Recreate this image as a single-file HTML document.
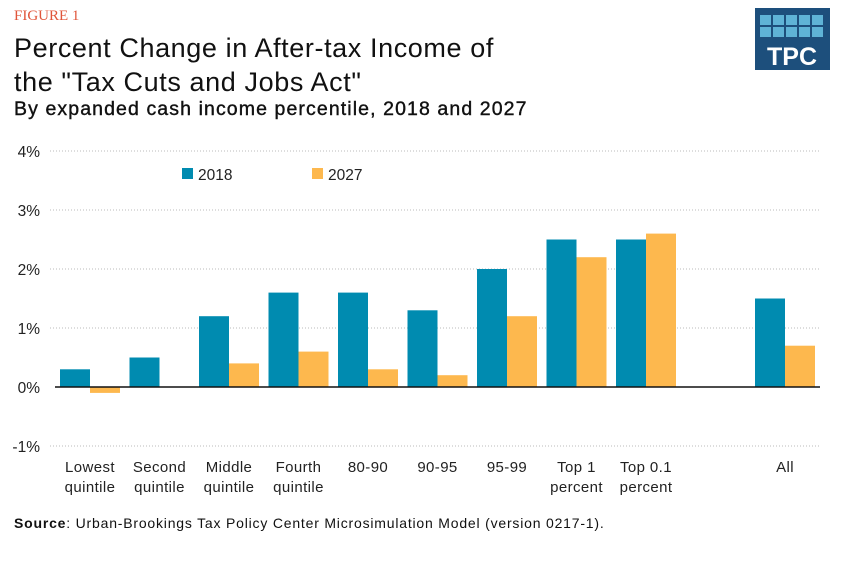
<!DOCTYPE html>
<html><head><meta charset="utf-8"><style>
body{margin:0;background:#fff;font-family:"Liberation Sans",sans-serif;}
#wrap{position:relative;width:845px;height:573px;overflow:hidden;}
.t{position:absolute;white-space:nowrap;color:#111;}
</style></head><body>
<div id="wrap">
<div class="t" style="left:14px;top:8px;font-family:'Liberation Serif',serif;font-size:15px;color:#e0553a;">FIGURE 1</div>
<div class="t" style="left:14px;top:31px;font-size:27px;line-height:34px;letter-spacing:0.6px;color:#111;">Percent Change in After-tax Income of<br>the "Tax Cuts and Jobs Act"</div>
<div class="t" style="left:14px;top:98px;font-size:19.5px;letter-spacing:1.1px;color:#111;-webkit-text-stroke:0.4px #111;">By expanded cash income percentile, 2018 and 2027</div>
<svg style="position:absolute;left:755px;top:8px" width="75" height="62">
<rect width="75" height="62" fill="#1d4f7c"/>
<g fill="#5fb3d6">
<rect x="5" y="7" width="11" height="10"/><rect x="18" y="7" width="11" height="10"/><rect x="31" y="7" width="11" height="10"/><rect x="44" y="7" width="11" height="10"/><rect x="57" y="7" width="11" height="10"/>
<rect x="5" y="19" width="11" height="10"/><rect x="18" y="19" width="11" height="10"/><rect x="31" y="19" width="11" height="10"/><rect x="44" y="19" width="11" height="10"/><rect x="57" y="19" width="11" height="10"/>
</g>
<text x="37" y="57" text-anchor="middle" font-family="Liberation Sans,sans-serif" font-weight="bold" font-size="25" fill="#fff">TPC</text>
</svg>
<svg id="chart" style="position:absolute;left:0;top:0" width="845" height="573"></svg>
<div class="t" style="left:14px;top:515px;font-size:14px;letter-spacing:0.8px;"><b>Source</b>: Urban-Brookings Tax Policy Center Microsimulation Model (version 0217-1).</div>
</div>
<script>
const categories=["Lowest\nquintile","Second\nquintile","Middle\nquintile","Fourth\nquintile","80-90","90-95","95-99","Top 1\npercent","Top 0.1\npercent","All"];
const slots=[0,1,2,3,4,5,6,7,8,10];
const values2018=[0.3,0.5,1.2,1.6,1.6,1.3,2.0,2.5,2.5,1.5];
const values2027=[-0.1,0,0.4,0.6,0.3,0.2,1.2,2.2,2.6,0.7];
const yTicks=[-1,0,1,2,3,4];
const NS="http://www.w3.org/2000/svg";
const svg=document.getElementById('chart');
const y=v=>387-v*59;
const x=i=>60+i*69.5;
const bw=30;
function mk(t,a){const e=document.createElementNS(NS,t);for(const k in a)e.setAttribute(k,a[k]);svg.appendChild(e);return e;}
yTicks.forEach(v=>{
  if(v!==0){const g=mk('line',{x1:50,x2:820,y1:y(v),y2:y(v),stroke:'#bbb','stroke-dasharray':'1,2'});
  
  }
  const t=mk('text',{x:40,y:y(v)+6,'text-anchor':'end','font-size':15.5,fill:'#222','font-family':'Liberation Sans,sans-serif'});
  t.textContent=v+'%';
  
  
});
categories.forEach((c,i)=>{
  const x0=x(slots[i]);
  const b1=mk('rect',{x:x0,width:bw,y:Math.min(y(values2018[i]),y(0)),height:Math.abs(y(values2018[i])-y(0)),fill:'#008bb0'});
  
  
  const b2=mk('rect',{x:x0+bw,width:bw,y:Math.min(y(values2027[i]),y(0)),height:Math.abs(y(values2027[i])-y(0)),fill:'#fdb84e'});
  
  
  c.split('\n').forEach((ln,k)=>{
    const t=mk('text',{x:x0+bw,y:472+k*20,'text-anchor':'middle','font-size':15,'letter-spacing':0.4,fill:'#222','font-family':'Liberation Sans,sans-serif'});
    t.textContent=ln;
    
    
  });
});
const ax=mk('line',{x1:55,x2:820,y1:y(0),y2:y(0),stroke:'#111','stroke-width':1.5});


[['#008bb0','2018',182],['#fdb84e','2027',312]].forEach(([c,l,lx])=>{
  const r=mk('rect',{x:lx,y:168,width:11,height:11,fill:c});
  
  
  const t=mk('text',{x:lx+16,y:180,'font-size':15.5,fill:'#222','font-family':'Liberation Sans,sans-serif'});
  t.textContent=l;
  
  
});
</script>
</body></html>
